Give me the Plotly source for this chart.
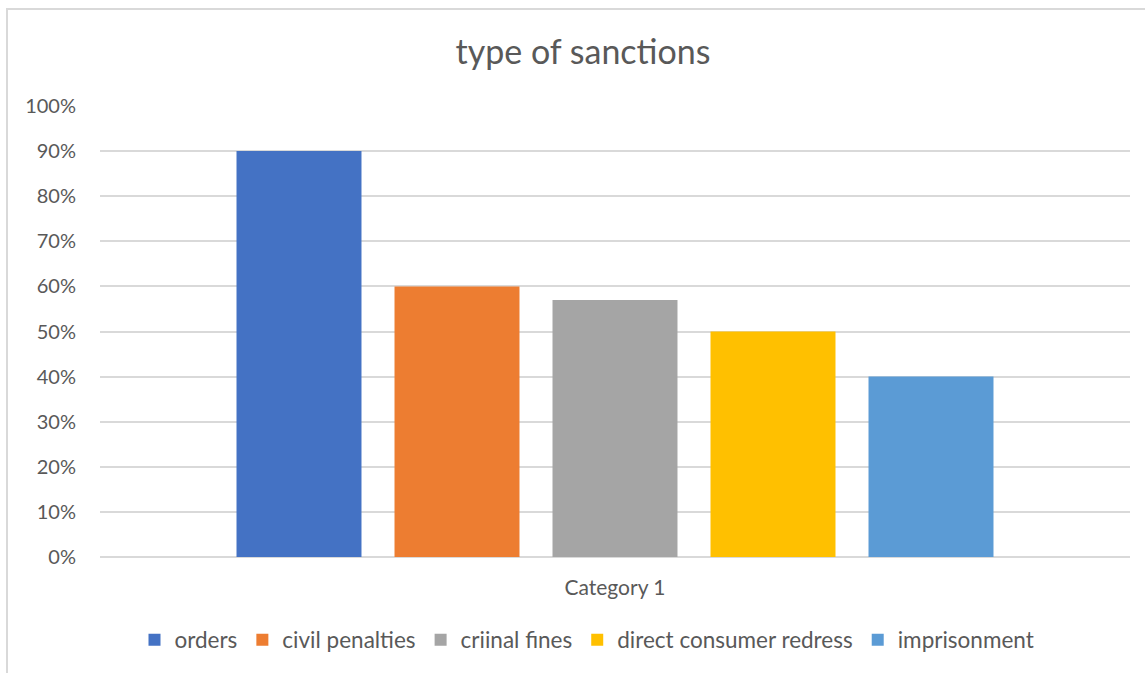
import plotly.graph_objects as go

categories = ["Category 1"]
series_names = ["orders", "civil penalties", "criinal fines", "direct consumer redress", "imprisonment"]
series_values = [0.90, 0.60, 0.57, 0.50, 0.40]
series_colors = ["#4472C4", "#ED7D31", "#A5A5A5", "#FFC000", "#5B9BD5"]
y_ticks = [0, 0.1, 0.2, 0.3, 0.4, 0.5, 0.6, 0.7, 0.8, 0.9, 1.0]
y_tick_labels = ["0%", "10%", "20%", "30%", "40%", "50%", "60%", "70%", "80%", "90%", "100%"]

FONT = "Lato, Calibri, Carlito, sans-serif"
TXT = "#595959"
GRID = "#D9D9D9"

fig = go.Figure()
for name, val, col in zip(series_names, series_values, series_colors):
    fig.add_trace(go.Bar(x=categories, y=[val], name=name, marker=dict(color=col, line=dict(width=0))))

W, H = 1145, 673
L, R, T, B = 100, 15, 106, 116
pw = W - L - R
ph = H - T - B

def px_x(x):
    return (x - L) / pw

def px_y(y):
    return (H - B - y) / ph

fig.update_layout(
    width=W, height=H,
    margin=dict(l=L, r=R, t=T, b=B),
    paper_bgcolor="white", plot_bgcolor="white",
    font=dict(family=FONT, color=TXT, size=20),
    barmode="group",
    bargap=0.233,
    bargroupgap=0.209,
    title=dict(text="type of sanctions", x=583 / W, xanchor="center", y=1 - 52 / H, yanchor="middle",
               font=dict(size=34, color=TXT, family=FONT)),
    xaxis=dict(showgrid=False, showline=False, ticks="outside", ticklen=12, tickcolor="rgba(0,0,0,0)",
               tickfont=dict(size=21, color=TXT), fixedrange=True),
    yaxis=dict(range=[0, 1], tickvals=y_ticks, ticktext=y_tick_labels, showgrid=True, gridcolor=GRID,
               gridwidth=1.5, zeroline=True, zerolinecolor=GRID, zerolinewidth=1.5, showline=False,
               ticks="outside", ticklen=19, tickcolor="rgba(0,0,0,0)", tickfont=dict(size=20, color=TXT),
               fixedrange=True),
    legend=dict(orientation="h", x=px_x(587), xanchor="center", y=px_y(640), yanchor="middle",
                font=dict(size=22.5, color=TXT), traceorder="normal", itemwidth=30),
    shapes=[
        dict(type="line", xref="paper", yref="paper", x0=px_x(7), x1=px_x(7), y0=px_y(9), y1=px_y(700),
             line=dict(color=GRID, width=2)),
        dict(type="line", xref="paper", yref="paper", x0=px_x(6), x1=px_x(1200), y0=px_y(9), y1=px_y(9),
             line=dict(color=GRID, width=2)),
    ],
)

fig.write_html("out.html", config={"displayModeBar": False},
               post_script="document.body.style.margin='0';document.body.style.padding='0';")
